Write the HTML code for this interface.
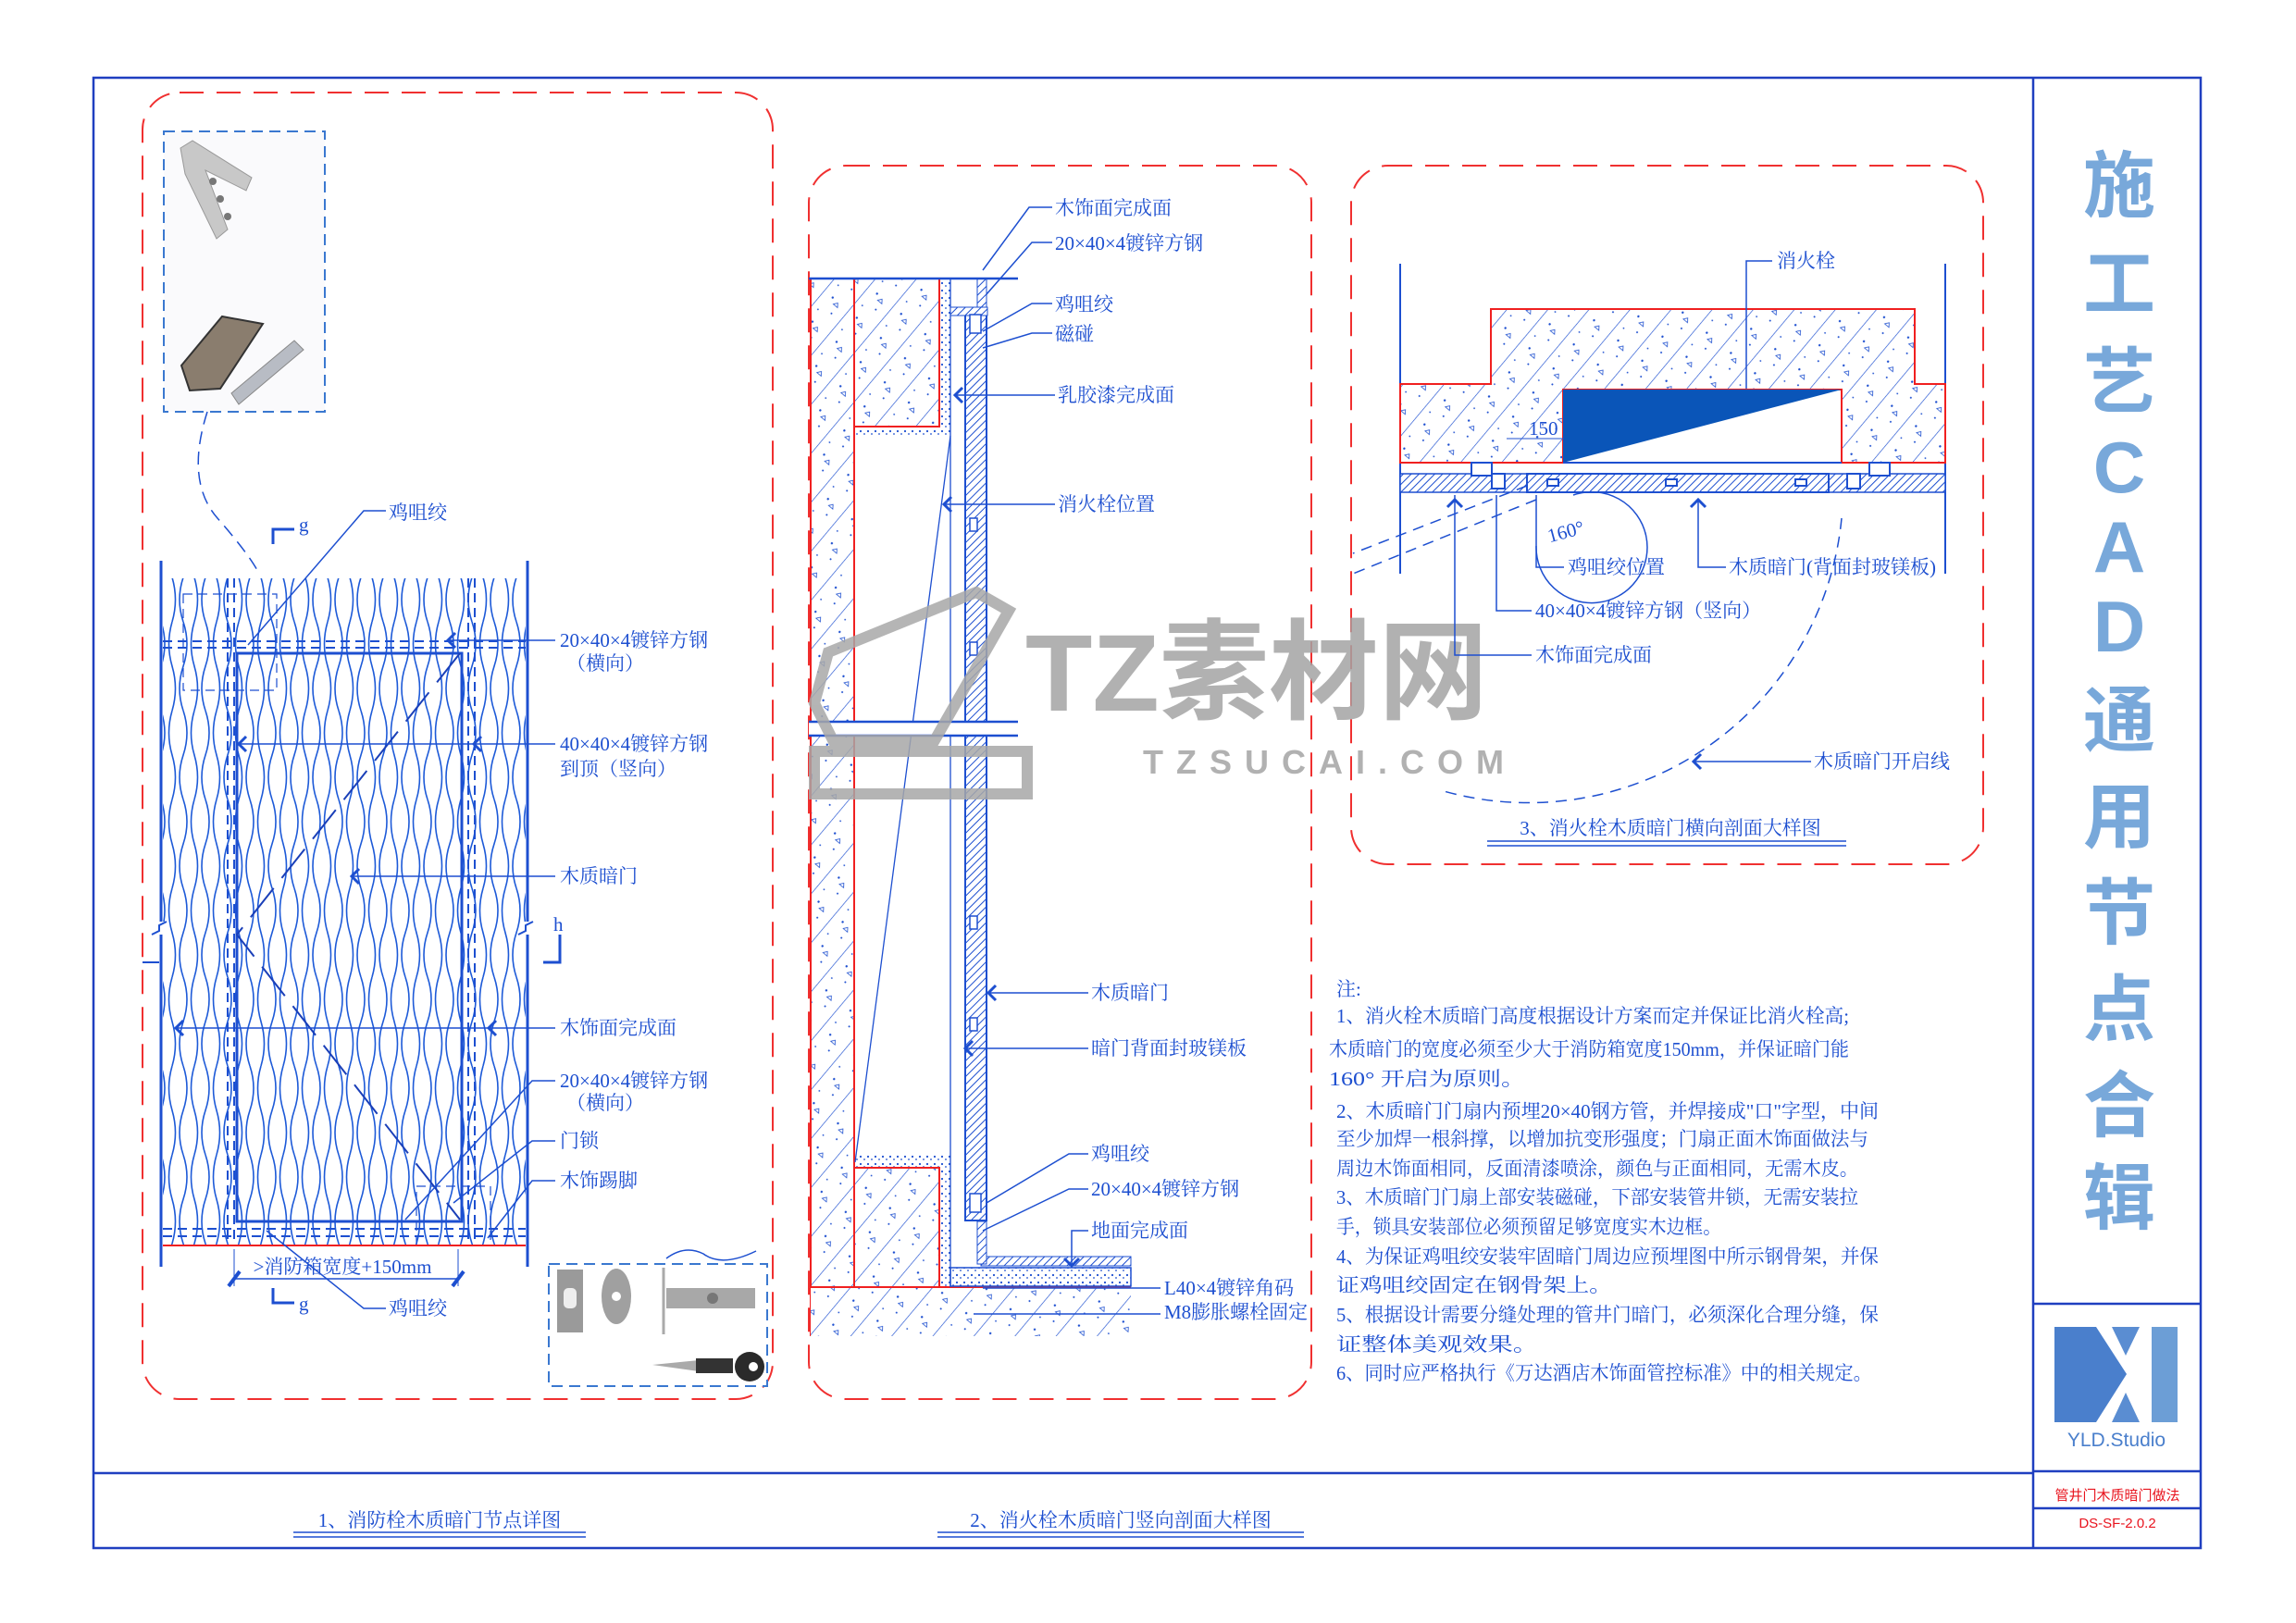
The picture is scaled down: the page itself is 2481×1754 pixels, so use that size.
<!DOCTYPE html>
<html><head><meta charset="utf-8"><style>
html,body{margin:0;padding:0;background:#fff}
svg{display:block}
.t{font-family:"Liberation Serif","Noto Serif CJK SC",serif;fill:#1d4fd0;font-size:21px}
.n{font-family:"Liberation Serif","Noto Serif CJK SC",serif;fill:#1d4fd0;font-size:21px}
</style></head><body>
<svg width="2481" height="1754" viewBox="0 0 2481 1754" xmlns="http://www.w3.org/2000/svg">
<defs>
<pattern id="hatch" width="34" height="34" patternUnits="userSpaceOnUse" patternTransform="rotate(40)">
<rect width="34" height="34" fill="#fff"/>
<line x1="0" y1="0" x2="0" y2="34" stroke="#1d4fd0" stroke-width="1.3"/>
<circle cx="12" cy="8" r="1.2" fill="#1d4fd0"/><circle cx="22" cy="22" r="1" fill="#1d4fd0"/>
<path d="M17 13 l3 -4 l3 4z" fill="none" stroke="#1d4fd0" stroke-width="0.8"/>
<circle cx="8" cy="28" r="0.9" fill="#1d4fd0"/>
</pattern>
<pattern id="dense" width="6" height="6" patternUnits="userSpaceOnUse" patternTransform="rotate(45)">
<rect width="6" height="6" fill="#fff"/><line x1="0" y1="0" x2="0" y2="6" stroke="#1d4fd0" stroke-width="2"/>
</pattern>
<pattern id="dots" width="8" height="8" patternUnits="userSpaceOnUse">
<rect width="8" height="8" fill="#fff"/><circle cx="2" cy="2" r="1.1" fill="#1d4fd0"/><circle cx="6" cy="5" r="0.9" fill="#1d4fd0"/>
</pattern>
<pattern id="wood" width="48" height="96" patternUnits="userSpaceOnUse">
<rect width="48" height="96" fill="#fff"/>
<g fill="none" stroke="#1d5ad8" stroke-width="1.6">
<path d="M6 0 Q14 24 6 48 Q-2 72 6 96"/>
<path d="M18 0 Q11 24 18 48 Q25 72 18 96"/>
<path d="M30 0 Q38 24 30 48 Q22 72 30 96"/>
<path d="M42 0 Q35 24 42 48 Q49 72 42 96"/>
</g>
</pattern>
</defs>
<rect width="2481" height="1754" fill="#fff"/>

<!-- frame -->
<g fill="none" stroke="#1f3fc0" stroke-width="2.5">
<rect x="101" y="84" width="2277" height="1589"/>
<line x1="2197" y1="84" x2="2197" y2="1673"/>
<line x1="101" y1="1592" x2="2197" y2="1592"/>
<line x1="2197" y1="1409" x2="2378" y2="1409"/>
<line x1="2197" y1="1590" x2="2378" y2="1590"/>
<line x1="2197" y1="1630" x2="2378" y2="1630"/>
</g>

<!-- vertical title -->
<g font-family="Liberation Sans,'Noto Sans CJK SC',sans-serif" font-weight="bold" font-size="78" fill="#78a8da" text-anchor="middle">
<text x="2290" y="228">施</text><text x="2290" y="334">工</text><text x="2290" y="440">艺</text>
<text x="2290" y="532">C</text><text x="2290" y="618">A</text><text x="2290" y="704">D</text>
<text x="2290" y="806">通</text><text x="2290" y="910">用</text><text x="2290" y="1014">节</text>
<text x="2290" y="1118">点</text><text x="2290" y="1222">合</text><text x="2290" y="1322">辑</text>
</g>

<!-- logo -->
<polygon points="2220,1434 2265,1434 2298,1485 2265,1537 2220,1537" fill="#4a7fcc"/>
<polygon points="2282,1434 2312,1434 2297,1465" fill="#5a8dd2"/>
<polygon points="2282,1537 2312,1537 2297,1505" fill="#5a8dd2"/>
<rect x="2325" y="1434" width="28" height="103" fill="#6c9ed6"/>
<text x="2287" y="1563" text-anchor="middle" font-family="Liberation Sans,sans-serif" font-size="21" fill="#4a7fcc">YLD.Studio</text>
<text x="2288" y="1621" text-anchor="middle" font-family="Liberation Sans,'Noto Sans CJK SC',sans-serif" font-size="15" fill="#e8141e">管井门木质暗门做法</text>
<text x="2288" y="1651" text-anchor="middle" font-family="Liberation Sans,sans-serif" font-size="15" fill="#e8141e">DS-SF-2.0.2</text>

<!-- panels red dashed -->
<g fill="none" stroke="#f03030" stroke-width="2" stroke-dasharray="26,14">
<rect x="154" y="100" width="681" height="1412" rx="40"/>
<rect x="874" y="179" width="543" height="1333" rx="40"/>
<rect x="1460" y="179" width="683" height="755" rx="40"/>
</g>

<!-- captions -->
<text class="t" x="475" y="1650" text-anchor="middle" font-size="21">1、消防栓木质暗门节点详图</text>
<line x1="317" y1="1656" x2="633" y2="1656" stroke="#1d4fd0" stroke-width="1.5"/><line x1="317" y1="1661" x2="633" y2="1661" stroke="#1d4fd0" stroke-width="1.5"/>
<text class="t" x="1211" y="1650" text-anchor="middle">2、消火栓木质暗门竖向剖面大样图</text>
<line x1="1013" y1="1656" x2="1409" y2="1656" stroke="#1d4fd0" stroke-width="1.5"/><line x1="1013" y1="1661" x2="1409" y2="1661" stroke="#1d4fd0" stroke-width="1.5"/>
<text class="t" x="1805" y="902" text-anchor="middle">3、消火栓木质暗门横向剖面大样图</text>
<line x1="1607" y1="909" x2="1995" y2="909" stroke="#1d4fd0" stroke-width="1.5"/><line x1="1607" y1="914" x2="1995" y2="914" stroke="#1d4fd0" stroke-width="1.5"/>

<!-- ===== PANEL 1 ===== -->
<rect x="177" y="142" width="174" height="303" fill="#fafafc" stroke="#3a78d0" stroke-width="2" stroke-dasharray="12,7"/>
<polygon points="195,160 208,152 272,192 266,206 222,184 246,248 234,258 200,188" fill="#c8c8c8" stroke="#999" stroke-width="1"/>
<circle cx="230" cy="196" r="4" fill="#777"/><circle cx="238" cy="215" r="4" fill="#777"/><circle cx="246" cy="234" r="4" fill="#777"/>
<polygon points="196,395 240,342 284,350 238,420 205,422" fill="#8a7d6e" stroke="#333" stroke-width="2"/>
<polygon points="250,425 318,368 328,378 258,437" fill="#b8bcc4" stroke="#888" stroke-width="1"/>
<path d="M224 445 Q200 520 235 560 Q270 600 280 620" fill="none" stroke="#1d4fd0" stroke-width="1.5" stroke-dasharray="14,8"/>

<line x1="174" y1="606" x2="174" y2="1369" stroke="#1d4fd0" stroke-width="3"/>
<line x1="570" y1="606" x2="570" y2="1369" stroke="#1d4fd0" stroke-width="3"/>
<rect x="176" y="625" width="392" height="721" fill="url(#wood)"/>
<g fill="none" stroke="#1d4fd0" stroke-width="2" stroke-dasharray="10,6">
<line x1="246" y1="625" x2="246" y2="1346"/><line x1="253" y1="625" x2="253" y2="1346"/>
<line x1="506" y1="625" x2="506" y2="1346"/><line x1="513" y1="625" x2="513" y2="1346"/>
<line x1="176" y1="693" x2="568" y2="693"/><line x1="176" y1="700" x2="568" y2="700"/>
<line x1="176" y1="1328" x2="568" y2="1328"/><line x1="176" y1="1336" x2="568" y2="1336"/>
<rect x="198" y="642" width="101" height="104" stroke-width="1.2"/>
<rect x="450" y="1282" width="80" height="64" stroke-width="1.2"/>
</g>
<rect x="256" y="706" width="243" height="614" fill="none" stroke="#1d4fd0" stroke-width="3"/>
<path d="M497 706 L256 1010 L497 1318" fill="none" stroke="#1a3fb8" stroke-width="2" stroke-dasharray="40,14"/>
<line x1="176" y1="1346" x2="568" y2="1346" stroke="#f02020" stroke-width="2"/>
<rect x="166" y="996" width="16" height="14" fill="#fff"/><path d="M164 1010 l8 -4 l0 -6 l8 -4" stroke="#1d4fd0" stroke-width="2" fill="none"/>
<rect x="562" y="996" width="16" height="14" fill="#fff"/><path d="M560 1010 l8 -4 l0 -6 l8 -4" stroke="#1d4fd0" stroke-width="2" fill="none"/>
<line x1="154" y1="1040" x2="172" y2="1040" stroke="#1d4fd0" stroke-width="2"/>
<!-- section marks -->
<path d="M295 588 L295 572 L318 572" fill="none" stroke="#1d4fd0" stroke-width="3"/><text class="t" x="323" y="574" font-size="20">g</text>
<path d="M295 1392 L295 1408 L318 1408" fill="none" stroke="#1d4fd0" stroke-width="3"/><text class="t" x="323" y="1416" font-size="20">g</text>
<path d="M605 1010 L605 1040 L587 1040" fill="none" stroke="#1d4fd0" stroke-width="3"/><text class="t" x="598" y="1006" font-size="20">h</text>
<!-- dimension -->
<line x1="253" y1="1382" x2="495" y2="1382" stroke="#1d4fd0" stroke-width="1.5"/>
<line x1="253" y1="1350" x2="253" y2="1390" stroke="#1d4fd0" stroke-width="1"/><line x1="495" y1="1350" x2="495" y2="1390" stroke="#1d4fd0" stroke-width="1"/>
<line x1="247" y1="1390" x2="259" y2="1374" stroke="#1d4fd0" stroke-width="4"/><line x1="489" y1="1390" x2="501" y2="1374" stroke="#1d4fd0" stroke-width="4"/>
<text class="t" x="370" y="1376" text-anchor="middle" font-size="15">&gt;消防箱宽度+150mm</text>
<!-- leaders -->
<g fill="none" stroke="#1d4fd0" stroke-width="1.5">
<path d="M417 552 L393 552 L268 697"/>
<line x1="600" y1="692" x2="484" y2="692"/>
<line x1="600" y1="804" x2="258" y2="804"/>
<line x1="600" y1="947" x2="380" y2="947"/>
<line x1="600" y1="1111" x2="190" y2="1111"/>
<path d="M600 1168 L575 1168 L438 1318"/>
<path d="M600 1233 L575 1233 L490 1300"/>
<path d="M600 1276 L575 1276 L527 1338"/>
<path d="M417 1414 L393 1414 L288 1330"/>
<path d="M817 1352 Q780 1370 760 1355 Q740 1345 720 1360"/>
</g>
<g fill="none" stroke="#1d4fd0" stroke-width="3">
<path d="M492 684 l-8 8 l8 8"/><path d="M266 796 l-8 8 l8 8"/><path d="M520 796 l-8 8 l8 8"/>
<path d="M388 939 l-8 8 l8 8"/><path d="M198 1103 l-8 8 l8 8"/><path d="M536 1103 l-8 8 l8 8"/>
</g>
<text class="t" x="420" y="561">鸡咀绞</text>
<text class="t" x="605" y="699">20×40×4镀锌方钢</text><text class="t" x="612" y="724">（横向）</text>
<text class="t" x="605" y="811">40×40×4镀锌方钢</text><text class="t" x="605" y="838">到顶（竖向）</text>
<text class="t" x="605" y="954">木质暗门</text>
<text class="t" x="605" y="1118">木饰面完成面</text>
<text class="t" x="605" y="1175">20×40×4镀锌方钢</text><text class="t" x="612" y="1199">（横向）</text>
<text class="t" x="605" y="1240">门锁</text>
<text class="t" x="605" y="1283">木饰踢脚</text>
<text class="t" x="420" y="1421">鸡咀绞</text>
<!-- lock photo box -->
<rect x="593" y="1366" width="236" height="132" fill="#fff" stroke="#3a78d0" stroke-width="2" stroke-dasharray="12,7"/>
<rect x="602" y="1372" width="28" height="68" fill="#9a9a9a"/><rect x="609" y="1392" width="14" height="22" rx="5" fill="#eee"/>
<ellipse cx="666" cy="1401" rx="16" ry="30" fill="#a0a0a0"/><circle cx="666" cy="1401" r="5" fill="#fff"/>
<line x1="717" y1="1370" x2="717" y2="1442" stroke="#aaa" stroke-width="3"/>
<rect x="720" y="1392" width="96" height="22" fill="#a8a8a8"/><circle cx="770" cy="1403" r="6" fill="#777"/>
<polygon points="705,1475 755,1470 755,1482" fill="#aaa"/><rect x="752" y="1468" width="40" height="16" fill="#333"/>
<circle cx="810" cy="1477" r="16" fill="#2a2a2a"/><circle cx="814" cy="1477" r="5" fill="#fff"/>

<!-- ===== PANEL 2 ===== -->
<rect x="876" y="301" width="47" height="1090" fill="url(#hatch)"/>
<rect x="923" y="301" width="104" height="170" fill="url(#dots)"/>
<rect x="923" y="301" width="92" height="160" fill="url(#hatch)" stroke="#f02020" stroke-width="2"/>
<rect x="923" y="1246" width="104" height="145" fill="url(#dots)"/>
<rect x="923" y="1262" width="92" height="129" fill="url(#hatch)" stroke="#f02020" stroke-width="2"/>
<line x1="923" y1="301" x2="923" y2="1391" stroke="#f02020" stroke-width="2"/>
<line x1="876" y1="301" x2="876" y2="1444" stroke="#f02020" stroke-width="2"/>
<rect x="876" y="1391" width="346" height="53" fill="url(#hatch)"/>
<line x1="876" y1="1391" x2="1222" y2="1391" stroke="#f02020" stroke-width="2"/>
<rect x="1027" y="1370" width="195" height="20" fill="url(#dots)" stroke="#1d4fd0" stroke-width="1.5"/>
<rect x="1060" y="1358" width="162" height="10" fill="url(#dense)" stroke="#1d4fd0" stroke-width="1"/>
<rect x="1056" y="1320" width="10" height="46" fill="url(#dense)" stroke="#1d4fd0" stroke-width="1"/>
<line x1="1027" y1="301" x2="1027" y2="1391" stroke="#1d4fd0" stroke-width="1.3"/>
<line x1="1027" y1="471" x2="924" y2="1256" stroke="#1d4fd0" stroke-width="1.3"/>
<rect x="1043" y="339" width="23" height="980" fill="url(#dense)" stroke="#1d4fd0" stroke-width="2"/>
<rect x="1056" y="301" width="10" height="40" fill="url(#dense)" stroke="#1d4fd0" stroke-width="1"/>
<rect x="1027" y="332" width="40" height="9" fill="url(#dense)" stroke="#1d4fd0" stroke-width="1"/>
<g fill="#fff" stroke="#1d4fd0" stroke-width="1.5">
<rect x="1048" y="340" width="12" height="20"/><rect x="1048" y="560" width="8" height="14"/><rect x="1048" y="694" width="8" height="14"/>
<rect x="1048" y="990" width="8" height="14"/><rect x="1048" y="1100" width="8" height="14"/><rect x="1048" y="1290" width="12" height="20"/>
</g>
<line x1="874" y1="301" x2="1100" y2="301" stroke="#1d4fd0" stroke-width="2.5"/>
<rect x="874" y="780" width="226" height="14" fill="#fff"/>
<line x1="874" y1="780" x2="1100" y2="780" stroke="#1d4fd0" stroke-width="2.5"/>
<line x1="874" y1="795" x2="1100" y2="795" stroke="#1d4fd0" stroke-width="2.5"/>
<g fill="none" stroke="#1d4fd0" stroke-width="1.5">
<path d="M1137 224 L1112 224 L1062 292"/>
<path d="M1137 262 L1115 262 L1066 318"/>
<path d="M1137 328 L1115 328 L1062 358"/>
<path d="M1137 360 L1115 360 L1062 376"/>
<line x1="1140" y1="427" x2="1032" y2="427"/>
<line x1="1140" y1="545" x2="1020" y2="545"/>
<line x1="1176" y1="1073" x2="1068" y2="1073"/>
<line x1="1176" y1="1133" x2="1043" y2="1133"/>
<path d="M1176 1247 L1155 1247 L1066 1300"/>
<path d="M1176 1285 L1155 1285 L1062 1330"/>
<path d="M1176 1330 L1158 1330 L1158 1368"/>
<line x1="1254" y1="1392" x2="1062" y2="1392"/>
<line x1="1254" y1="1420" x2="1052" y2="1420"/>
</g>
<g fill="none" stroke="#1d4fd0" stroke-width="3">
<path d="M1040 419 l-8 8 l8 8"/><path d="M1028 537 l-8 8 l8 8"/><path d="M1076 1065 l-8 8 l8 8"/><path d="M1051 1125 l-8 8 l8 8"/><path d="M1150 1360 l8 8 l8 -8"/>
</g>
<text class="t" x="1140" y="232">木饰面完成面</text>
<text class="t" x="1140" y="270">20×40×4镀锌方钢</text>
<text class="t" x="1140" y="336">鸡咀绞</text>
<text class="t" x="1140" y="368">磁碰</text>
<text class="t" x="1143" y="434">乳胶漆完成面</text>
<text class="t" x="1143" y="552">消火栓位置</text>
<text class="t" x="1179" y="1080">木质暗门</text>
<text class="t" x="1179" y="1140">暗门背面封玻镁板</text>
<text class="t" x="1179" y="1254">鸡咀绞</text>
<text class="t" x="1179" y="1292">20×40×4镀锌方钢</text>
<text class="t" x="1179" y="1337">地面完成面</text>
<text class="t" x="1258" y="1399">L40×4镀锌角码</text>
<text class="t" x="1258" y="1425">M8膨胀螺栓固定</text>

<!-- watermark -->
<g opacity="0.85">
<path d="M895 705 L1055 640 L1090 660 L1010 800 L900 800 L880 760 Z" fill="none" stroke="#a8a8a8" stroke-width="12"/>
<rect x="880" y="812" width="230" height="46" fill="none" stroke="#a8a8a8" stroke-width="12"/>
<text x="1108" y="768" font-family="Liberation Sans,'Noto Sans CJK SC',sans-serif" font-weight="bold" font-size="118" fill="#a4a4a4" textLength="500" lengthAdjust="spacingAndGlyphs">TZ素材网</text>
<text x="1235" y="836" font-family="Liberation Sans,sans-serif" font-weight="bold" font-size="36" letter-spacing="14" fill="#a4a4a4">TZSUCAI.COM</text>
</g>

<!-- ===== PANEL 3 ===== -->
<line x1="1513" y1="285" x2="1513" y2="620" stroke="#1d4fd0" stroke-width="2"/>
<line x1="2102" y1="285" x2="2102" y2="620" stroke="#1d4fd0" stroke-width="2"/>
<polygon points="1513,415 1611,415 1611,334 2069,334 2069,415 2102,415 2102,500 1990,500 1990,421 1689,421 1689,500 1513,500" fill="url(#hatch)" stroke="#f02020" stroke-width="2"/>
<rect x="1689" y="421" width="301" height="79" fill="#fff" stroke="#f02020" stroke-width="2"/>
<polygon points="1689,421 1990,421 1689,500" fill="#0a55b8"/>
<line x1="1689" y1="500" x2="1990" y2="500" stroke="#1d4fd0" stroke-width="2"/>
<rect x="1513" y="512" width="589" height="20" fill="url(#dense)" stroke="#1d4fd0" stroke-width="1.5"/>
<rect x="1650" y="512" width="326" height="20" fill="url(#dense)" stroke="#1d4fd0" stroke-width="2"/>
<g fill="#fff" stroke="#1d4fd0" stroke-width="2">
<rect x="1590" y="500" width="22" height="14"/><rect x="2020" y="500" width="22" height="14"/>
<rect x="1612" y="512" width="14" height="16"/><rect x="1996" y="512" width="14" height="16"/>
<rect x="1672" y="518" width="12" height="7"/><rect x="1800" y="518" width="12" height="7"/><rect x="1940" y="518" width="12" height="7"/>
</g>
<g fill="none" stroke="#1d4fd0" stroke-width="1.5" stroke-dasharray="12,8">
<line x1="1650" y1="525" x2="1462" y2="598"/><line x1="1660" y1="540" x2="1462" y2="620"/>
<path d="M1990 560 A340 340 0 0 1 1560 855"/>
</g>
<path d="M1700 535 A60 60 0 1 1 1660 590" fill="none" stroke="#1d4fd0" stroke-width="1.5"/>
<text class="t" x="1672" y="582" font-size="19" transform="rotate(-15 1690 575)">160°</text>
<text class="t" x="1652" y="470" font-size="19">150</text>
<line x1="1628" y1="474" x2="1690" y2="474" stroke="#1d4fd0" stroke-width="1"/>
<g fill="none" stroke="#1d4fd0" stroke-width="1.5">
<path d="M1915 282 L1887 282 L1887 420"/>
<path d="M1690 613 L1660 613 L1660 535"/>
<path d="M1865 613 L1835 613 L1835 540"/>
<path d="M1655 660 L1617 660 L1617 535"/>
<path d="M1655 708 L1572 708 L1572 535"/>
<line x1="1957" y1="823" x2="1830" y2="823"/>
</g>
<g fill="none" stroke="#1d4fd0" stroke-width="3">
<path d="M1827 548 l8 -8 l8 8"/><path d="M1564 548 l8 -8 l8 8"/><path d="M1838 815 l-8 8 l8 8"/>
</g>
<text class="t" x="1920" y="289">消火栓</text>
<text class="t" x="1694" y="620">鸡咀绞位置</text>
<text class="t" x="1868" y="620">木质暗门(背面封玻镁板)</text>
<text class="t" x="1659" y="667">40×40×4镀锌方钢（竖向）</text>
<text class="t" x="1659" y="715">木饰面完成面</text>
<text class="t" x="1960" y="830">木质暗门开启线</text>

<!-- notes -->
<g>
<text class="n" x="1444" y="1076">注:</text>
<text class="n" x="1444" y="1105" textLength="554" lengthAdjust="spacingAndGlyphs">1、消火栓木质暗门高度根据设计方案而定并保证比消火栓高;</text>
<text class="n" x="1436" y="1141" textLength="562" lengthAdjust="spacingAndGlyphs">木质暗门的宽度必须至少大于消防箱宽度150mm，并保证暗门能</text>
<text class="n" x="1436" y="1173" textLength="212" lengthAdjust="spacingAndGlyphs">160°  开启为原则。</text>
<text class="n" x="1444" y="1208" textLength="586" lengthAdjust="spacingAndGlyphs">2、木质暗门门扇内预埋20×40钢方管，并焊接成"口"字型，中间</text>
<text class="n" x="1444" y="1238" textLength="575" lengthAdjust="spacingAndGlyphs">至少加焊一根斜撑，以增加抗变形强度；门扇正面木饰面做法与</text>
<text class="n" x="1444" y="1270" textLength="564" lengthAdjust="spacingAndGlyphs">周边木饰面相同，反面清漆喷涂，颜色与正面相同，无需木皮。</text>
<text class="n" x="1444" y="1301" textLength="564" lengthAdjust="spacingAndGlyphs">3、木质暗门门扇上部安装磁碰，下部安装管井锁，无需安装拉</text>
<text class="n" x="1444" y="1333" textLength="416" lengthAdjust="spacingAndGlyphs">手，锁具安装部位必须预留足够宽度实木边框。</text>
<text class="n" x="1444" y="1365" textLength="586" lengthAdjust="spacingAndGlyphs">4、为保证鸡咀绞安装牢固暗门周边应预埋图中所示钢骨架，并保</text>
<text class="n" x="1444" y="1396" textLength="298" lengthAdjust="spacingAndGlyphs">证鸡咀绞固定在钢骨架上。</text>
<text class="n" x="1444" y="1428" textLength="586" lengthAdjust="spacingAndGlyphs">5、根据设计需要分缝处理的管井门暗门，必须深化合理分缝，保</text>
<text class="n" x="1444" y="1460" textLength="218" lengthAdjust="spacingAndGlyphs">证整体美观效果。</text>
<text class="n" x="1444" y="1491" textLength="579" lengthAdjust="spacingAndGlyphs">6、同时应严格执行《万达酒店木饰面管控标准》中的相关规定。</text>
</g>
</svg>
</body></html>
